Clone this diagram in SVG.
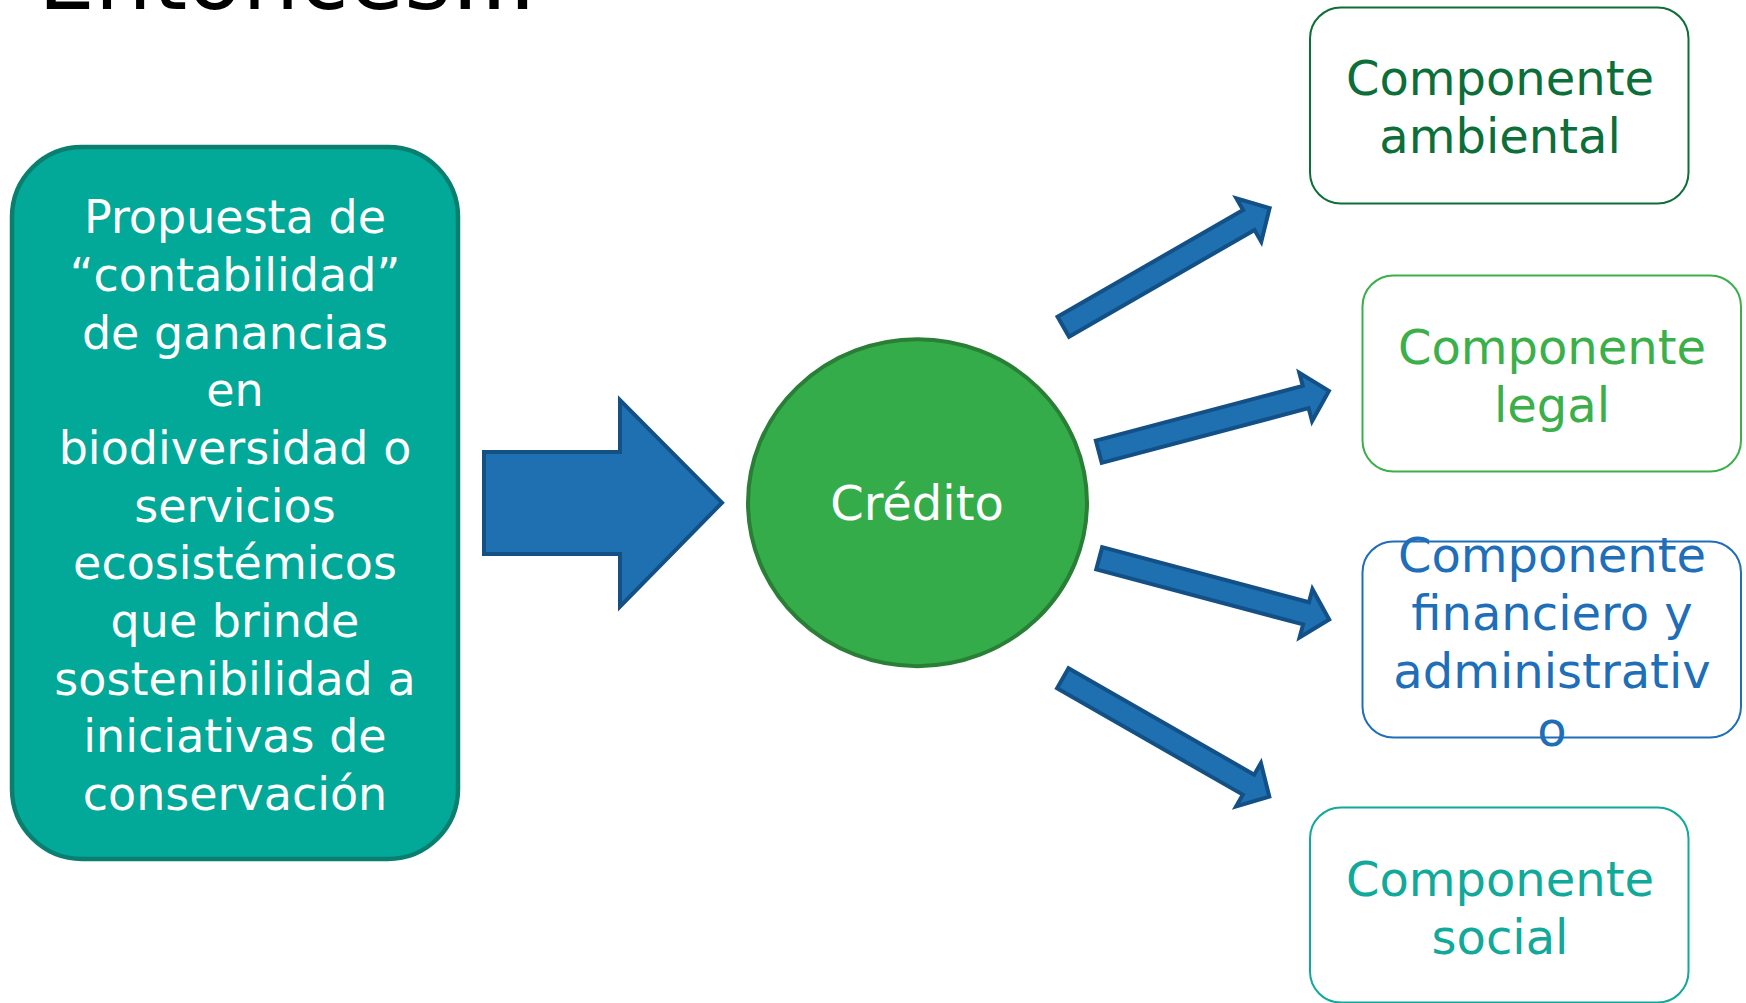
<svg xmlns="http://www.w3.org/2000/svg" xmlns:xlink="http://www.w3.org/1999/xlink" width="1746" height="1003" viewBox="0 0 1746 1003">
  <style>
    text { font-family: "DejaVu Sans", "Liberation Sans", sans-serif; text-anchor: middle; }
    .lt { fill: #ffffff; font-size: 46px; }
    .rt { font-size: 48px; }
    .arrow { fill: #1E70B1; stroke: #135086; stroke-width: 4; stroke-linejoin: miter; }
    .comp { fill: #ffffff; stroke-width: 2; }
  </style>
  <defs>
    <path id="smallArrow" d="M0,-11.5 H214 V-25 L238,0 L214,25 V11.5 H0 Z"/>
  </defs>
  <rect width="1746" height="1003" fill="#ffffff"/>

  <text x="38" y="8.5" style="text-anchor:start;font-size:90px;fill:#000000">Entonces...</text>

  <g id="propuesta">
    <rect x="12" y="147" width="446" height="712" rx="70" ry="70" fill="#02A898" stroke="#0A7F6F" stroke-width="4.5"/>
    <text class="lt" x="235" y="233">Propuesta de</text>
    <text class="lt" x="235" y="291">“contabilidad”</text>
    <text class="lt" x="235" y="349">de ganancias</text>
    <text class="lt" x="235" y="406">en</text>
    <text class="lt" x="235" y="464">biodiversidad o</text>
    <text class="lt" x="235" y="522">servicios</text>
    <text class="lt" x="235" y="579">ecosistémicos</text>
    <text class="lt" x="235" y="637">que brinde</text>
    <text class="lt" x="235" y="695">sostenibilidad a</text>
    <text class="lt" x="235" y="752">iniciativas de</text>
    <text class="lt" x="235" y="810">conservación</text>
  </g>

  <g id="credito">
    <ellipse cx="917.5" cy="502.7" rx="169.5" ry="163.5" fill="#35AC4A" stroke="#2A7F37" stroke-width="4"/>
    <text class="rt" x="917" y="520" fill="#ffffff">Crédito</text>
  </g>

  <g id="ambiental">
    <rect class="comp" x="1310" y="7.5" width="378.5" height="196" rx="31" ry="31" stroke="#0C6E38"/>
    <text class="rt" x="1500" y="95" fill="#0C6E38">Componente</text>
    <text class="rt" x="1500" y="153" fill="#0C6E38">ambiental</text>
  </g>

  <g id="legal">
    <rect class="comp" x="1362.5" y="275.5" width="378.5" height="196" rx="31" ry="31" stroke="#3BAF4A"/>
    <text class="rt" x="1552" y="364" fill="#3BAF4A">Componente</text>
    <text class="rt" x="1552" y="422" fill="#3BAF4A">legal</text>
  </g>

  <g id="financiero">
    <rect class="comp" x="1362.5" y="541.5" width="378.5" height="196" rx="31" ry="31" stroke="#1E6EB8"/>
    <text class="rt" x="1552" y="572" fill="#1E6EB8">Componente</text>
    <text class="rt" x="1552" y="630" fill="#1E6EB8">financiero y</text>
    <text class="rt" x="1552" y="688" fill="#1E6EB8">administrativ</text>
    <text class="rt" x="1552" y="746" fill="#1E6EB8">o</text>
  </g>

  <g id="social">
    <rect class="comp" x="1310" y="807.5" width="378.5" height="195" rx="31" ry="31" stroke="#10A99A"/>
    <text class="rt" x="1500" y="896" fill="#10A99A">Componente</text>
    <text class="rt" x="1500" y="954" fill="#10A99A">social</text>
  </g>

  <g id="connectors">
    <polygon class="arrow" stroke-width="4.5" points="484,452 620,452 620,400 722,502.7 620,606.7 620,554 484,554"/>
    <use xlink:href="#smallArrow" href="#smallArrow" class="arrow" transform="translate(1063.3,326.7) rotate(-29.9)"/>
    <use xlink:href="#smallArrow" href="#smallArrow" class="arrow" transform="translate(1098.8,451.7) rotate(-14.8)"/>
    <use xlink:href="#smallArrow" href="#smallArrow" class="arrow" transform="translate(1099.2,558.3) rotate(14.9)"/>
    <use xlink:href="#smallArrow" href="#smallArrow" class="arrow" transform="translate(1062.8,678.3) rotate(29.8)"/>
  </g>
</svg>
